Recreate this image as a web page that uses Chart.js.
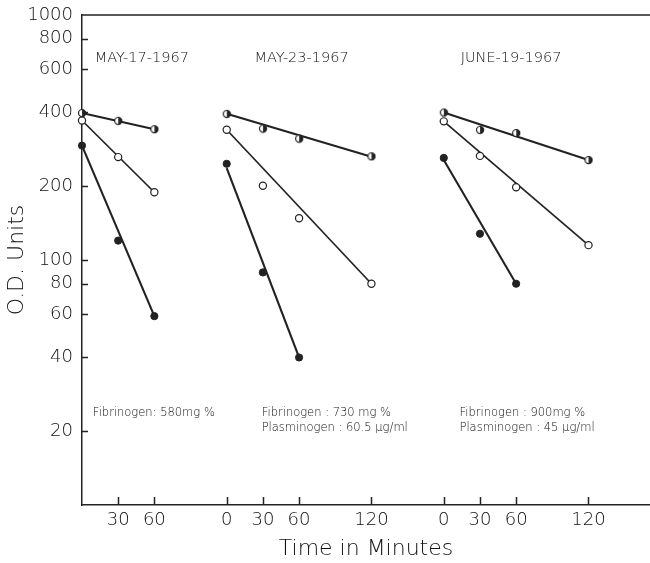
<!DOCTYPE html>
<html>
<head>
<meta charset="utf-8">
<script src="https://cdn.jsdelivr.net/npm/chart.js@4.4.1/dist/chart.umd.min.js"></script>
<style>
  html, body { margin: 0; padding: 0; background: #fff; }
  #wrap { width: 650px; height: 563px; }
</style>
</head>
<body>
<div id="wrap"><canvas id="chart" width="650" height="563"></canvas></div>
<script>
// three runs laid side by side on one time axis, each restarts at 0 min
const runDates = ['MAY-17-1967', 'MAY-23-1967', 'JUNE-19-1967'];
const runOffsets = [0, 120, 300];
const runNotes = [
  ['Fibrinogen: 580mg %'],
  ['Fibrinogen : 730 mg %', 'Plasminogen : 60.5 µg/ml'],
  ['Fibrinogen : 900mg %', 'Plasminogen : 45 µg/ml']
];

const xTickPositions = [30, 60, 120, 150, 180, 240, 300, 330, 360, 420];
const xTickLabels = ['30', '60', '0', '30', '60', '120', '0', '30', '60', '120'];
const yTickValues = [20, 40, 60, 80, 100, 200, 400, 600, 800, 1000];

// measured O.D. units, run A (May 17)
const timesA = [0, 30, 60];
const halfA = [398, 370, 342];
const openA = [371, 263, 189];
const filledA = [293, 120, 59];

// run B (May 23)
const timesB = [0, 30, 60, 120];
const halfB = [395, 344, 313, 265];
const openB = [340, 201, 148, 80];
const filledB = [247, 89, 40];

// run C (June 19)
const timesC = [0, 30, 60, 120];
const halfC = [400, 340, 330, 256];
const openC = [368, 266, 198, 115];
const filledC = [261, 128, 80];

// fitted lines: value at first and at last time of each series
const halfFitA = [398, 342];
const openFitA = [371, 189];
const filledFitA = [293, 59];
const halfFitB = [395, 264];
const openFitB = [340, 80];
const filledFitB = [237, 40];
const halfFitC = [400, 256];
const openFitC = [368, 115];
const filledFitC = [256, 80];

const ink = '#222';
const textInk = '#111';
const FONT = "'DejaVu Sans', sans-serif";

function pts(times, values, offset) {
  return values.map((v, i) => ({ x: times[i] + offset, y: v }));
}

function fit(times, values, ends, offset) {
  const tEnd = times[values.length - 1];
  return [{ x: offset, y: ends[0] }, { x: tEnd + offset, y: ends[1] }];
}

function halfDot(r) {
  const c = document.createElement('canvas');
  const s = 2 * r + 3;
  c.width = c.height = s;
  const g = c.getContext('2d');
  const m = s / 2;
  g.beginPath(); g.arc(m, m, r, 0, Math.PI * 2); g.fillStyle = '#fff'; g.fill();
  g.beginPath(); g.moveTo(m, m - r); g.arc(m, m, r, -Math.PI / 2, Math.PI / 2); g.closePath();
  g.fillStyle = ink; g.fill();
  g.beginPath(); g.arc(m, m, r, 0, Math.PI * 2); g.lineWidth = 1.2; g.strokeStyle = ink; g.stroke();
  return c;
}
const halfStyle = halfDot(3.6);

const runs = [
  { times: timesA, half: halfA, open: openA, filled: filledA, fits: [halfFitA, openFitA, filledFitA] },
  { times: timesB, half: halfB, open: openB, filled: filledB, fits: [halfFitB, openFitB, filledFitB] },
  { times: timesC, half: halfC, open: openC, filled: filledC, fits: [halfFitC, openFitC, filledFitC] }
];

const datasets = [];
runs.forEach((run, k) => {
  const off = runOffsets[k];
  const series = [run.half, run.open, run.filled];
  series.forEach((vals, s) => {
    datasets.push({
      type: 'line',
      data: fit(run.times, vals, run.fits[s], off),
      borderColor: ink,
      borderWidth: s === 1 ? 1.7 : 2.1,
      pointRadius: 0,
      clip: false,
      order: 2
    });
  });
  datasets.push({
    type: 'scatter', data: pts(run.times, run.half, off),
    pointStyle: halfStyle, pointRadius: 4, clip: false, order: 1
  });
  datasets.push({
    type: 'scatter', data: pts(run.times, run.open, off),
    pointStyle: 'circle', pointRadius: 3.6, backgroundColor: '#fff',
    borderColor: ink, borderWidth: 1.2, clip: false, order: 1
  });
  datasets.push({
    type: 'scatter', data: pts(run.times, run.filled, off),
    pointStyle: 'circle', pointRadius: 3.6, backgroundColor: ink,
    borderColor: ink, borderWidth: 1, clip: false, order: 1
  });
});

// inward tick marks, top frame line and the run annotations
const frame = {
  id: 'frame',
  afterDraw(chart) {
    const { ctx, chartArea: a, scales: { x, y } } = chart;
    ctx.save();
    ctx.strokeStyle = ink;
    ctx.lineWidth = 1.5;
    ctx.beginPath();
    ctx.moveTo(a.left, a.top);
    ctx.lineTo(a.right, a.top);
    yTickValues.forEach(v => {
      if (v >= 1000) return;
      const py = Math.round(y.getPixelForValue(v)) + 0.5;
      ctx.moveTo(a.left, py);
      ctx.lineTo(a.left + 6, py);
    });
    xTickPositions.forEach(v => {
      const px = Math.round(x.getPixelForValue(v)) + 0.5;
      ctx.moveTo(px, a.bottom);
      ctx.lineTo(px, a.bottom - 8);
    });
    ctx.stroke();

    ctx.fillStyle = textInk;
    ctx.textBaseline = 'middle';
    ctx.textAlign = 'left';
    const dateX = [10.5, 143, 314];
    ctx.font = '300 14.5px ' + FONT;
    runDates.forEach((d, k) => {
      ctx.fillText(d, x.getPixelForValue(dateX[k]), y.getPixelForValue(665));
    });
    const noteX = [9, 149, 313];
    ctx.font = '300 11.5px ' + FONT;
    runNotes.forEach((lines, k) => {
      lines.forEach((t, i) => {
        ctx.fillText(t, x.getPixelForValue(noteX[k]), y.getPixelForValue(i === 0 ? 23.8 : 20.7));
      });
    });
    ctx.restore();
  }
};

new Chart(document.getElementById('chart'), {
  type: 'scatter',
  data: { datasets: datasets },
  options: {
    responsive: false,
    animation: false,
    layout: { autoPadding: false, padding: { top: 15, right: 0, left: 0, bottom: 0 } },
    plugins: { legend: { display: false }, tooltip: { enabled: false } },
    scales: {
      x: {
        type: 'linear',
        min: 0,
        max: 471,
        afterBuildTicks: scale => { scale.ticks = xTickPositions.map(v => ({ value: v })); },
        afterFit: scale => { scale.height = 58; scale.paddingLeft = 0; scale.paddingRight = 0; },
        grid: { display: false, drawTicks: false },
        border: { display: true, color: ink, width: 1.5 },
        ticks: {
          color: textInk,
          padding: 5,
          maxRotation: 0,
          autoSkip: false,
          font: { family: FONT, size: 18, weight: '300' },
          callback: (value, i) => xTickLabels[i]
        },
        title: {
          display: true,
          text: 'Time in Minutes',
          color: textInk,
          font: { family: FONT, size: 22, weight: '300' },
          padding: { top: 0, bottom: 1 }
        }
      },
      y: {
        type: 'logarithmic',
        min: 10,
        max: 1000,
        afterBuildTicks: scale => { scale.ticks = yTickValues.map(v => ({ value: v })); },
        afterFit: scale => { scale.width = 82; scale.paddingTop = 0; scale.paddingBottom = 0; },
        grid: { display: false, drawTicks: false },
        border: { display: true, color: ink, width: 1.5 },
        ticks: {
          color: textInk,
          padding: 9,
          autoSkip: false,
          font: { family: FONT, size: 18, weight: '300' },
          callback: value => String(value)
        },
        title: {
          display: true,
          text: 'O.D. Units',
          color: textInk,
          font: { family: FONT, size: 22, weight: '300' },
          padding: { top: 4, bottom: 0 }
        }
      }
    }
  },
  plugins: [frame]
});
</script>
</body>
</html>
